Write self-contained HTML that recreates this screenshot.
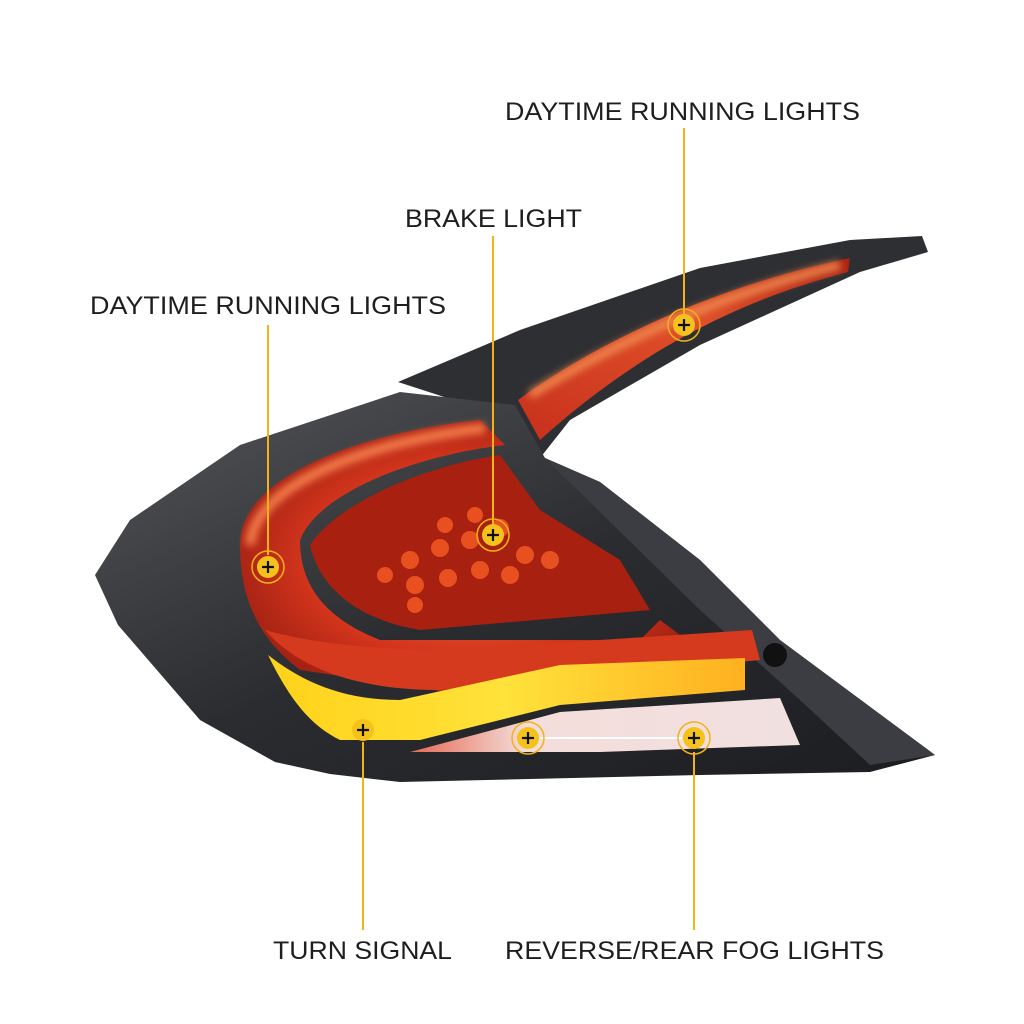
<!DOCTYPE html>
<html><head><meta charset="utf-8"><style>
html,body{margin:0;padding:0;background:#fff;}
svg{display:block}
text{font-family:"Liberation Sans",sans-serif;font-size:25px;fill:#1e1e1e}
</style></head><body>
<svg width="1024" height="1024" viewBox="0 0 1024 1024" xmlns="http://www.w3.org/2000/svg">
<defs>
<linearGradient id="body" x1="0" y1="0" x2="1" y2="1">
<stop offset="0" stop-color="#55565a"/><stop offset="0.5" stop-color="#2b2c30"/><stop offset="1" stop-color="#1c1d20"/>
</linearGradient>
<linearGradient id="arm" x1="0" y1="1" x2="1" y2="0">
<stop offset="0" stop-color="#c7301c"/><stop offset="0.6" stop-color="#e0502a"/><stop offset="1" stop-color="#a82012"/>
</linearGradient>
<radialGradient id="red" cx="0.5" cy="0.5" r="0.6">
<stop offset="0" stop-color="#ee6a3a"/><stop offset="0.6" stop-color="#d2341c"/><stop offset="1" stop-color="#8f1a10"/>
</radialGradient>
<linearGradient id="yel" x1="0" y1="0" x2="1" y2="0">
<stop offset="0" stop-color="#ffd21a"/><stop offset="0.5" stop-color="#ffe23a"/><stop offset="1" stop-color="#ffb020"/>
</linearGradient>
<linearGradient id="wht" x1="0" y1="0" x2="1" y2="0">
<stop offset="0" stop-color="#e46a54"/><stop offset="0.3" stop-color="#f4dedb"/><stop offset="1" stop-color="#f0e0e0"/>
</linearGradient>
<filter id="blur"><feGaussianBlur stdDeviation="4"/></filter>
</defs>

<polygon points="398,382 520,330 700,268 850,240 922,236 928,252 860,272 700,345 570,420 540,458 515,420" fill="#2e2f33"/>
<polygon points="95,575 130,520 240,445 400,392 515,405 545,458 600,482 700,560 780,640 935,755 870,772 700,775 400,782 330,774 275,762 200,720 118,625" fill="url(#body)"/>
<polygon points="545,458 600,482 700,560 780,640 935,755 870,765 800,700 700,610" fill="#3c3d42"/>
<circle cx="775" cy="655" r="12" fill="#111"/>

<path d="M518,400 C600,340 720,285 850,258 L848,272 C740,300 640,350 540,440 Z" fill="url(#arm)"/>
<path d="M530,395 C620,340 720,295 840,265" stroke="#f08a50" stroke-width="8" fill="none" filter="url(#blur)"/>

<path d="M240,545 C240,470 380,430 480,420 L505,445 C420,455 320,490 300,540 C300,590 330,620 380,640 L640,640 L660,620 L700,650 L690,690 L500,700 L300,670 C260,640 240,600 240,545 Z" fill="url(#red)"/>
<path d="M250,545 C255,480 380,440 485,428" stroke="#f47a4a" stroke-width="10" fill="none" filter="url(#blur)"/>
<path d="M310,545 C340,500 430,465 500,455 L540,510 L620,560 L650,610 L420,630 C360,620 320,590 310,545 Z" fill="#a8200f"/>
<g fill="#e85020">
<circle cx="410" cy="560" r="9"/><circle cx="440" cy="548" r="9"/><circle cx="470" cy="540" r="9"/><circle cx="500" cy="528" r="9"/><circle cx="525" cy="555" r="9"/><circle cx="550" cy="560" r="9"/>
<circle cx="415" cy="585" r="9"/><circle cx="448" cy="578" r="9"/><circle cx="480" cy="570" r="9"/><circle cx="510" cy="575" r="9"/><circle cx="445" cy="525" r="8"/><circle cx="475" cy="515" r="8"/>
<circle cx="415" cy="605" r="8"/><circle cx="385" cy="575" r="8"/>
</g>
<path d="M265,630 C300,670 360,690 440,690 L760,660 L752,630 L450,650 C360,650 300,640 265,630 Z" fill="#d63a1e"/>
<path d="M268,655 C290,700 310,725 340,740 L420,740 L560,705 L745,690 L745,658 L560,665 L400,700 C340,700 300,680 268,655 Z" fill="url(#yel)"/>
<path d="M410,752 L560,712 L780,698 L800,745 L600,752 Z" fill="url(#wht)"/>

<g stroke="#f3b21a" stroke-width="2">
<line x1="684" y1="128" x2="684" y2="314"/>
<line x1="493" y1="236" x2="493" y2="524"/>
<line x1="268" y1="325" x2="268" y2="555"/>
<line x1="363" y1="742" x2="363" y2="930"/>
<line x1="694" y1="752" x2="694" y2="930"/>
</g>
<line x1="540" y1="738" x2="682" y2="738" stroke="#fff" stroke-width="2"/>

<g>
<g transform="translate(684,325)"><circle r="16" fill="none" stroke="#f3b21a" stroke-width="1.5"/><circle r="11" fill="#f5c21c"/><path d="M-6,0H6M0,-6V6" stroke="#111" stroke-width="2.2"/></g>
<g transform="translate(493,535)"><circle r="16" fill="none" stroke="#f3b21a" stroke-width="1.5"/><circle r="11" fill="#f5c21c"/><path d="M-6,0H6M0,-6V6" stroke="#111" stroke-width="2.2"/></g>
<g transform="translate(268,567)"><circle r="16" fill="none" stroke="#f3b21a" stroke-width="1.5"/><circle r="11" fill="#f5c21c"/><path d="M-6,0H6M0,-6V6" stroke="#111" stroke-width="2.2"/></g>
<g transform="translate(363,730)"><circle r="11" fill="#f5c21c"/><path d="M-6,0H6M0,-6V6" stroke="#111" stroke-width="2.2"/></g>
<g transform="translate(528,738)"><circle r="16" fill="none" stroke="#f3b21a" stroke-width="1.5"/><circle r="11" fill="#f5c21c"/><path d="M-6,0H6M0,-6V6" stroke="#111" stroke-width="2.2"/></g>
<g transform="translate(694,738)"><circle r="16" fill="none" stroke="#f3b21a" stroke-width="1.5"/><circle r="11" fill="#f5c21c"/><path d="M-6,0H6M0,-6V6" stroke="#111" stroke-width="2.2"/></g>
</g>

<text x="505" y="120" textLength="355" lengthAdjust="spacingAndGlyphs">DAYTIME RUNNING LIGHTS</text>
<text x="405" y="227" textLength="177" lengthAdjust="spacingAndGlyphs">BRAKE LIGHT</text>
<text x="90" y="314" textLength="356" lengthAdjust="spacingAndGlyphs">DAYTIME RUNNING LIGHTS</text>
<text x="273" y="959" textLength="179" lengthAdjust="spacingAndGlyphs">TURN SIGNAL</text>
<text x="505" y="959" textLength="379" lengthAdjust="spacingAndGlyphs">REVERSE/REAR FOG LIGHTS</text>
</svg>
</body></html>
